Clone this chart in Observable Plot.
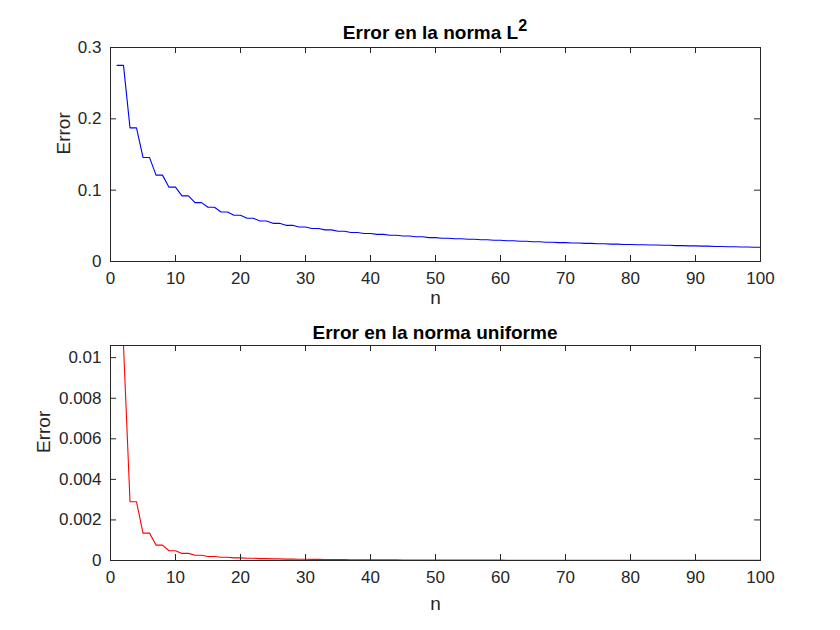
<!DOCTYPE html>
<html><head><meta charset="utf-8">
<script src="https://cdn.jsdelivr.net/npm/d3@7"></script>
<script src="https://cdn.jsdelivr.net/npm/@observablehq/plot@0.6"></script>
<style>
body{margin:0;background:#fff;}
#fig{position:relative;width:840px;height:630px;font-family:"Liberation Sans",Arial,Helvetica,sans-serif;background:#fff;overflow:hidden;}
.title{position:absolute;left:110px;width:650px;text-align:center;font-weight:bold;font-size:19px;line-height:19px;color:#000;white-space:nowrap;}
.title sup{font-size:0.85em;position:relative;top:-0.05em;line-height:0;vertical-align:super;}
.panel{position:absolute;left:0;}
</style></head>
<body><div id="fig"></div>
<script>
const n = d3.range(1, 101);
const errorL2 = [
0.275,0.275,0.1873,0.1873,0.1459,0.1459,0.1211,0.1211,0.1042,0.1042,
0.0920,0.0920,0.0826,0.0826,0.0760,0.0760,0.0694,0.0694,0.0648,0.0648,
0.0606,0.0606,0.0568,0.0568,0.0535,0.0535,0.0507,0.0507,0.0483,0.0483,
0.0462,0.0462,0.0443,0.0443,0.0425,0.0425,0.0407,0.0407,0.0392,0.0392,
0.0380,0.0380,0.0368,0.0368,0.0357,0.0357,0.0346,0.0346,0.0335,0.0335,
0.0326,0.0326,0.0318,0.0318,0.0311,0.0311,0.0304,0.0304,0.0297,0.0297,
0.0290,0.0290,0.0283,0.0283,0.0276,0.0276,0.0270,0.0270,0.0264,0.0264,
0.0259,0.0259,0.0254,0.0254,0.0249,0.0249,0.0244,0.0244,0.0239,0.0239,
0.0235,0.0235,0.0231,0.0231,0.0227,0.0227,0.0223,0.0223,0.0219,0.0219,
0.0215,0.0215,0.0211,0.0211,0.0207,0.0207,0.0203,0.0203,0.0199,0.0199];
const errorUnif = [
0.0106,0.0106,0.0029,0.0029,0.00135,0.00135,0.00076,0.00076,0.00048,0.00048,
0.00035,0.00035,0.00026,0.00026,0.00020,0.00020,0.00016,0.00016,0.00013,0.00013,
0.00011,0.00011,0.000092,0.000092,0.000080,0.000080,0.000070,0.000070,0.000062,0.000062,
0.000055,0.000055,0.000049,0.000049,0.000044,0.000044,0.000040,0.000040,0.000036,0.000036,
0.000033,0.000033,0.000030,0.000030,0.000028,0.000028,0.000026,0.000026,0.000024,0.000024,
0.000022,0.000022,0.000021,0.000021,0.000019,0.000019,0.000018,0.000018,0.000017,0.000017,
0.000016,0.000016,0.000015,0.000015,0.000014,0.000014,0.000013,0.000013,0.000013,0.000013,
0.000012,0.000012,0.000011,0.000011,0.000011,0.000011,0.000010,0.000010,0.000010,0.000010,
0.0000095,0.0000095,0.000009,0.000009,0.0000085,0.0000085,0.000008,0.000008,0.0000077,0.0000077,
0.0000074,0.0000074,0.000007,0.000007,0.0000067,0.0000067,0.0000064,0.0000064,0.0000061,0.0000061];
const xTicks = [0,10,20,30,40,50,60,70,80,90,100];
const yTicksL2 = [0,0.1,0.2,0.3];
const yTicksUnif = [0,0.002,0.004,0.006,0.008,0.01];
const titles = ["Error en la norma L", "Error en la norma uniforme"];
const xLabel = "n", yLabel = "Error";

const W = 840, PH = 315, ML = 110, MR = 80;
const ink = "#262626";

function panel(vals, yDomain, yTicks, color, mt, mb, xLabelDy, yLabelDx) {
  const data = n.map((d, i) => ({n: d, e: vals[i]}));
  const fw = W - ML - MR, fh = PH - mt - mb, tk = 6;
  return Plot.plot({
    width: W, height: PH, marginLeft: ML, marginRight: MR, marginTop: mt, marginBottom: mb,
    style: {fontFamily: '"Liberation Sans", Arial, Helvetica, sans-serif', fontSize: "17px", color: ink, background: "transparent", overflow: "visible"},
    x: {domain: [0, 100]},
    y: {domain: yDomain},
    marks: [
      Plot.line(data, {x: "n", y: "e", stroke: color, strokeWidth: 1.1}),
      Plot.tickX(xTicks, {x: d => d, insetTop: fh - tk, stroke: ink}),
      Plot.tickX(xTicks, {x: d => d, insetBottom: fh - tk, stroke: ink}),
      Plot.tickY(yTicks, {y: d => d, insetRight: fw - tk, stroke: ink}),
      Plot.tickY(yTicks, {y: d => d, insetLeft: fw - tk, stroke: ink}),
      Plot.frame({stroke: ink}),
      Plot.axisX({ticks: xTicks, tickSize: 0, tickPadding: 10, tickFormat: d => String(d), label: null, fontSize: "17px"}),
      Plot.axisY({ticks: yTicks, tickSize: 0, tickPadding: 9, tickFormat: d => String(d), label: null, fontSize: "17px"}),
      Plot.text([xLabel], {frameAnchor: "bottom", dy: xLabelDy, lineAnchor: "middle", fontSize: 19, fill: ink}),
      Plot.text([yLabel], {frameAnchor: "left", dx: yLabelDx, rotate: -90, lineAnchor: "bottom", fontSize: 19, fill: ink})
    ]
  });
}

const fig = document.getElementById("fig");
const p1 = panel(errorL2, [0, 0.3], yTicksL2, "#0000ff", 47, 54, 36, -41);
p1.classList.add("panel"); p1.style.top = "0px";
const p2 = panel(errorUnif, [0, 0.0106], yTicksUnif, "#ff0000", 30, 70, 43, -61);
p2.classList.add("panel"); p2.style.top = "315px";
fig.appendChild(p1); fig.appendChild(p2);

const t1 = document.createElement("div");
t1.className = "title"; t1.style.top = "23px";
t1.append(titles[0]);
const sup = document.createElement("sup"); sup.textContent = "2"; t1.appendChild(sup);
const t2 = document.createElement("div");
t2.className = "title"; t2.style.top = "323px";
t2.textContent = titles[1];
fig.appendChild(t1); fig.appendChild(t2);
</script>
</body></html>
